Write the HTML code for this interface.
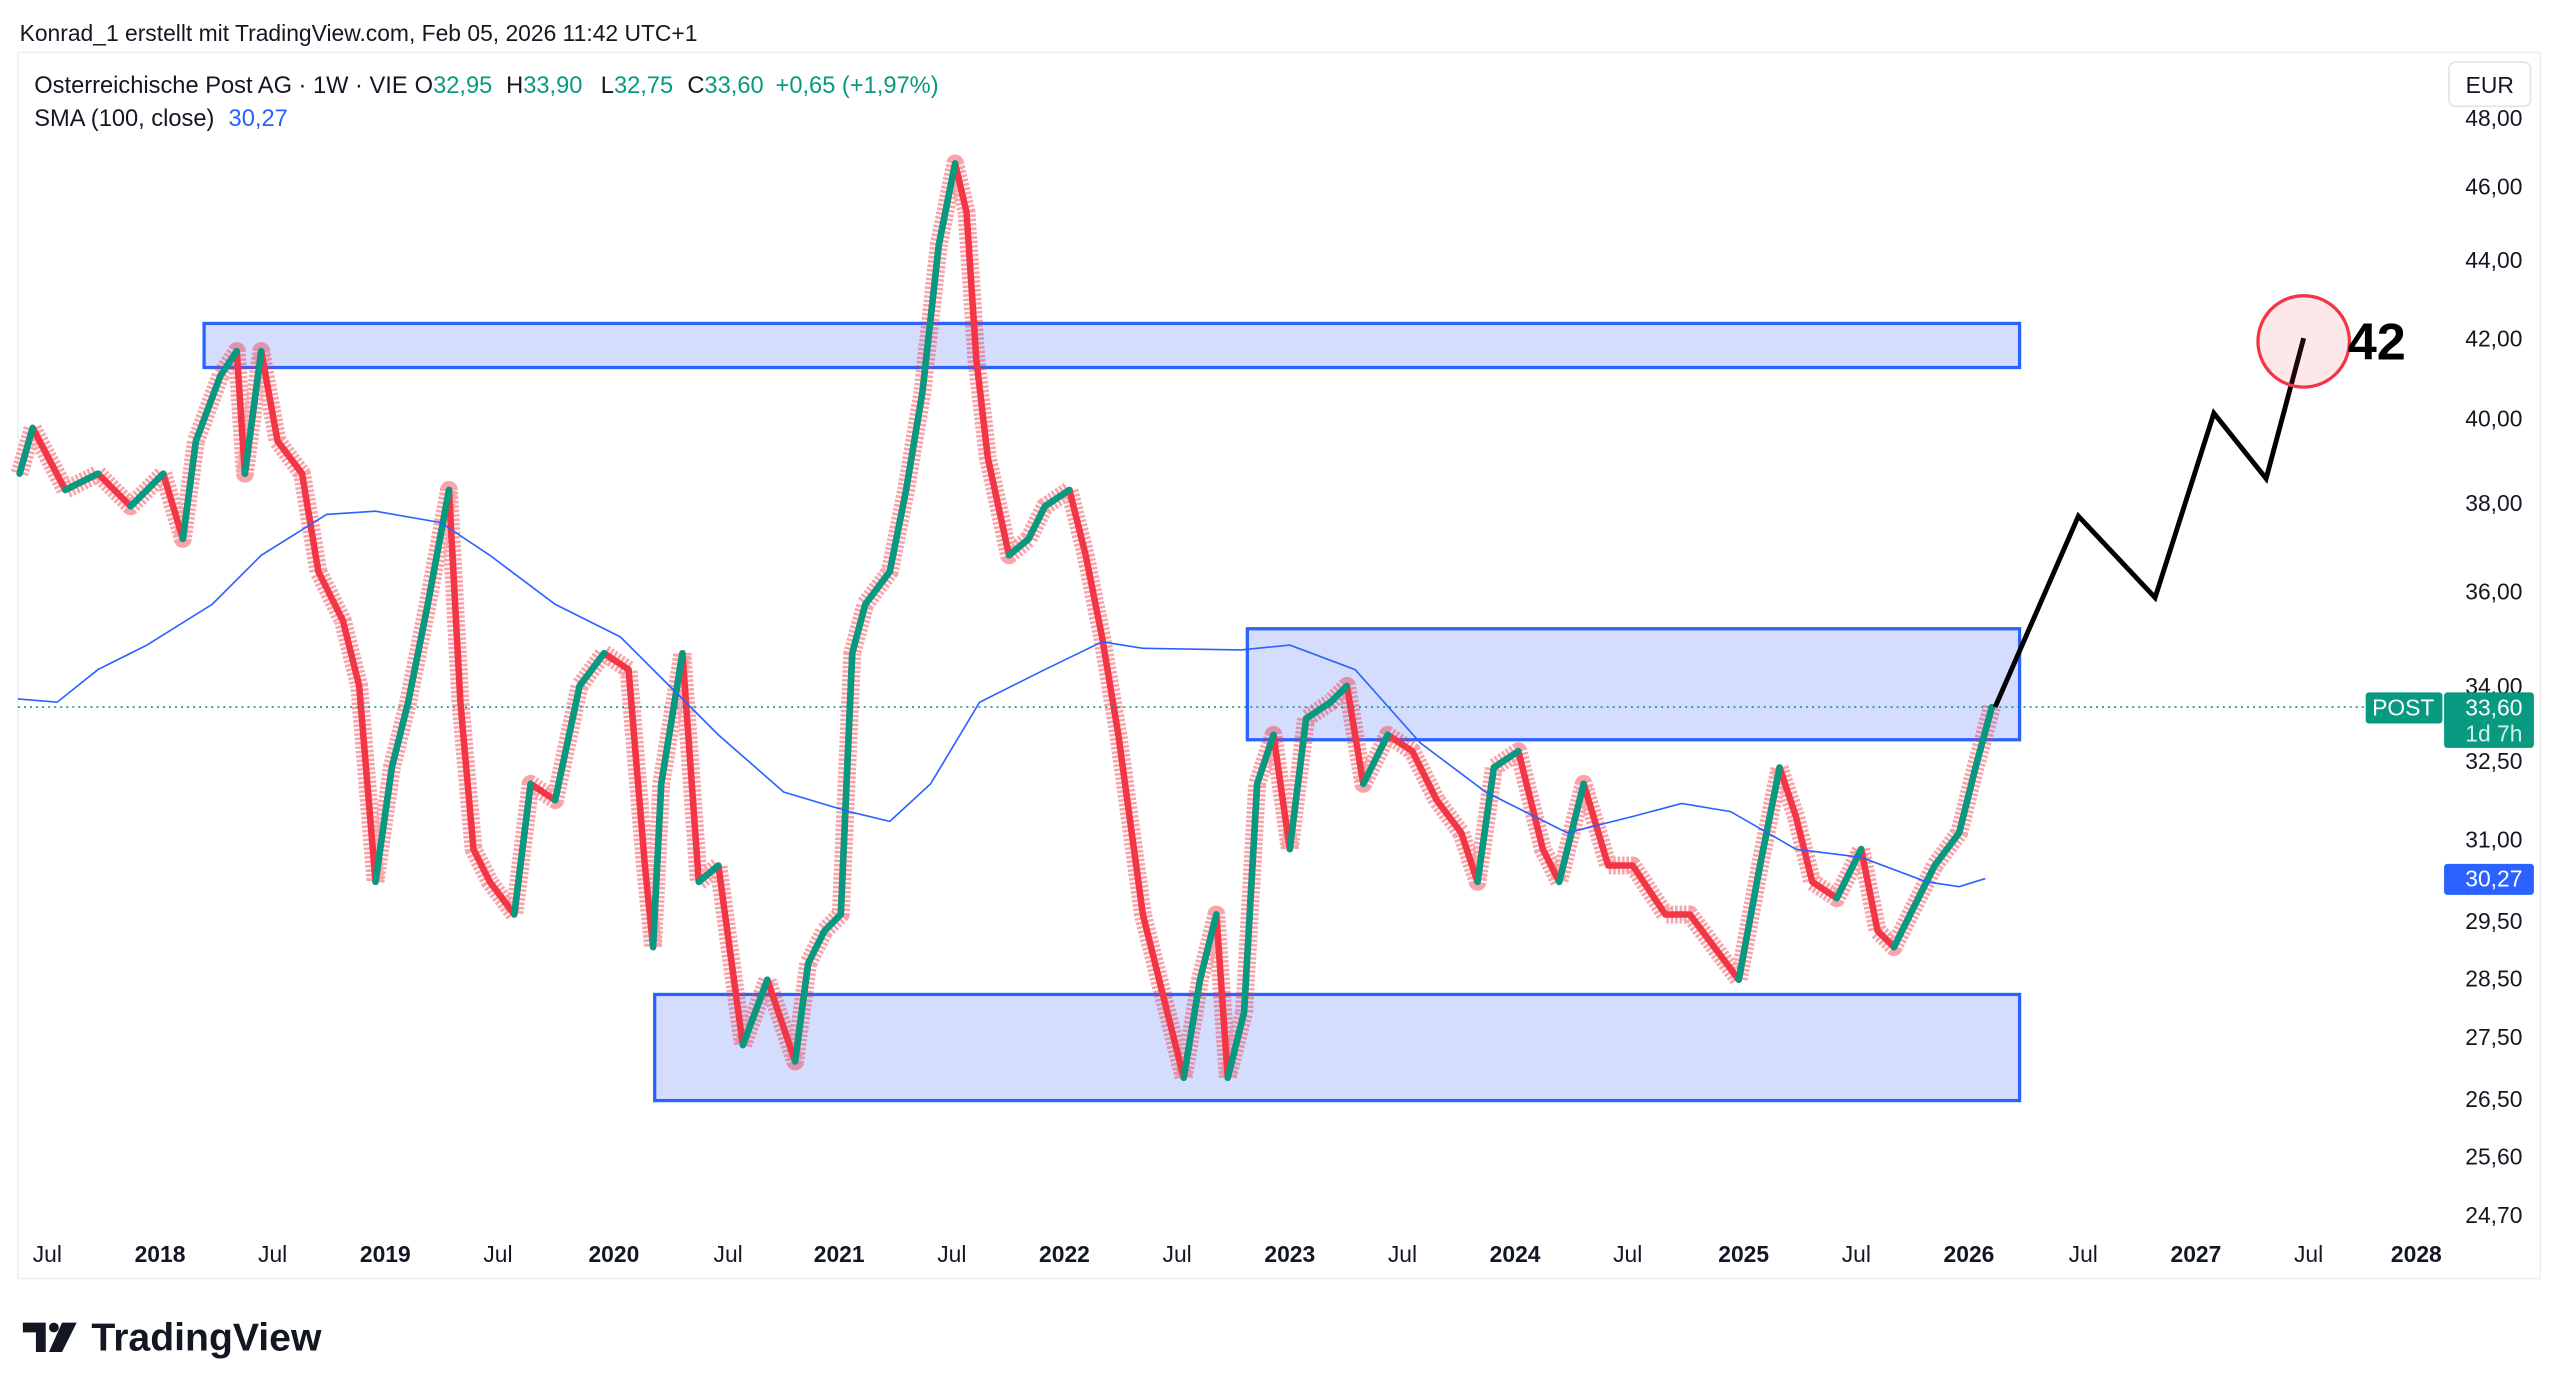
<!DOCTYPE html>
<html><head><meta charset="utf-8"><style>
html,body{margin:0;padding:0;background:#fff;width:2560px;height:1393px;overflow:hidden}
svg{display:block}
text{font-family:"Liberation Sans",sans-serif}
</style></head><body>
<svg width="2560" height="1393" viewBox="0 0 1568 853" xmlns="http://www.w3.org/2000/svg">
<rect x="0" y="0" width="1568" height="853" fill="#fff"/>
<text x="12" y="25" font-size="14" fill="#131722">Konrad_1 erstellt mit TradingView.com, Feb 05, 2026 11:42 UTC+1</text>
<rect x="11" y="32" width="1545" height="751" fill="none" stroke="#eceef2" stroke-width="1"/>
<rect x="125" y="198" width="1112" height="27" fill="#d4ddfd" stroke="#2962ff" stroke-width="2"/>
<rect x="764" y="385" width="473" height="68" fill="#d4ddfd" stroke="#2962ff" stroke-width="2"/>
<rect x="401" y="609" width="836" height="65" fill="#d4ddfd" stroke="#2962ff" stroke-width="2"/>
<g id="price">
<polyline fill="none" stroke="#f23645" stroke-opacity="0.45" stroke-width="11" stroke-dasharray="1.6,1.1" stroke-linejoin="round" points="12,290 20,262 40,300 60,290 80,310 100,290 112,330 120,270 135,230 145,215 150,290 160,215 170,270 185,290 195,350 210,380 220,420 230,540 240,470 250,430 262,370 275,300 282,430 290,520 300,540 315,560 325,480 340,490 355,420 370,400 385,410 395,530 400,580 405,480 418,400 428,540 440,530 455,640 470,600 487,650 495,590 505,570 515,560 522,400 530,370 545,350 555,300 565,240 575,150 585,100 592,130 598,220 605,280 618,340 630,330 640,310 655,300 665,340 675,390 685,450 700,560 715,620 725,660 735,600 745,560 752,660 762,620 770,480 780,450 790,520 800,440 815,430 825,420 835,480 850,450 865,460 880,490 895,510 905,540 915,470 930,460 945,520 955,540 970,480 985,530 1000,530 1020,560 1035,560 1050,580 1065,600 1078,530 1090,470 1100,500 1110,540 1125,550 1140,520 1150,570 1160,580 1170,560 1185,530 1200,510 1210,470 1220,433"/>
<polyline fill="none" stroke="#f23645" stroke-width="4" stroke-linejoin="round" points="12,290 20,262 40,300 60,290 80,310 100,290 112,330 120,270 135,230 145,215 150,290 160,215 170,270 185,290 195,350 210,380 220,420 230,540 240,470 250,430 262,370 275,300 282,430 290,520 300,540 315,560 325,480 340,490 355,420 370,400 385,410 395,530 400,580 405,480 418,400 428,540 440,530 455,640 470,600 487,650 495,590 505,570 515,560 522,400 530,370 545,350 555,300 565,240 575,150 585,100 592,130 598,220 605,280 618,340 630,330 640,310 655,300 665,340 675,390 685,450 700,560 715,620 725,660 735,600 745,560 752,660 762,620 770,480 780,450 790,520 800,440 815,430 825,420 835,480 850,450 865,460 880,490 895,510 905,540 915,470 930,460 945,520 955,540 970,480 985,530 1000,530 1020,560 1035,560 1050,580 1065,600 1078,530 1090,470 1100,500 1110,540 1125,550 1140,520 1150,570 1160,580 1170,560 1185,530 1200,510 1210,470 1220,433"/>
<path fill="none" stroke="#089981" stroke-width="4" stroke-linecap="round" d="M12 290L20 262M40 300L60 290M80 310L100 290M112 330L120 270L135 230L145 215M150 290L160 215M230 540L240 470L250 430L262 370L275 300M315 560L325 480M340 490L355 420L370 400M400 580L405 480L418 400M428 540L440 530M455 640L470 600M487 650L495 590L505 570L515 560L522 400L530 370L545 350L555 300L565 240L575 150L585 100M618 340L630 330L640 310L655 300M725 660L735 600L745 560M752 660L762 620L770 480L780 450M790 520L800 440L815 430L825 420M835 480L850 450M905 540L915 470L930 460M955 540L970 480M1065 600L1078 530L1090 470M1125 550L1140 520M1160 580L1170 560L1185 530L1200 510L1210 470L1220 433"/>
</g>
<polyline fill="none" stroke="#2962ff" stroke-width="1" points="11,428 35,430 60,410 90,395 130,370 160,340 200,315 230,313 270,320 300,340 340,370 380,390 410,420 440,450 480,485 520,497 545,503 570,480 600,430 640,410 675,393 700,397 760,398 790,395 830,410 870,455 910,485 960,510 1000,500 1030,492 1060,497 1100,520 1140,525 1180,540 1200,543 1216,538"/>
<line x1="11" y1="433" x2="1448" y2="433" stroke="#089981" stroke-width="1" stroke-dasharray="1.2,2.5"/>
<polyline points="1222,433 1273,316 1320,366 1356,253 1388,293 1411,207" fill="none" stroke="#000" stroke-width="3"/>
<circle cx="1411" cy="209" r="28" fill="rgba(242,54,69,0.12)" stroke="#f23645" stroke-width="2"/>
<text x="1438" y="220" font-size="32" font-weight="bold" fill="#000">42</text>
<g font-size="14.5" fill="#131722">
<text x="21" y="57">Osterreichische Post AG · 1W · VIE</text>
<text x="254" y="57">O<tspan fill="#089981">32,95</tspan></text>
<text x="310" y="57">H<tspan fill="#089981">33,90</tspan></text>
<text x="368" y="57">L<tspan fill="#089981">32,75</tspan></text>
<text x="421" y="57">C<tspan fill="#089981">33,60</tspan></text>
<text x="475" y="57" fill="#089981">+0,65 (+1,97%)</text>
<text x="21" y="77">SMA (100, close)</text>
<text x="140" y="77" fill="#2962ff">30,27</text>
</g>
<rect x="1500" y="38" width="50" height="27" rx="4" fill="#fff" stroke="#e0e3eb"/>
<text x="1525" y="57" font-size="14" fill="#131722" text-anchor="middle">EUR</text>
<g font-size="14" fill="#131722" text-anchor="end">
<text x="1545" y="77">48,00</text><text x="1545" y="119">46,00</text><text x="1545" y="164">44,00</text>
<text x="1545" y="212">42,00</text><text x="1545" y="261">40,00</text><text x="1545" y="313">38,00</text>
<text x="1545" y="367">36,00</text><text x="1545" y="425">34,00</text><text x="1545" y="471">32,50</text>
<text x="1545" y="519">31,00</text><text x="1545" y="569">29,50</text><text x="1545" y="604">28,50</text>
<text x="1545" y="640">27,50</text><text x="1545" y="678">26,50</text><text x="1545" y="713">25,60</text>
<text x="1545" y="749">24,70</text>
</g>
<rect x="1449" y="424" width="47" height="19" rx="2" fill="#089981"/>
<text x="1472" y="438" font-size="14" fill="#fff" text-anchor="middle">POST</text>
<rect x="1497" y="424" width="55" height="34" rx="2" fill="#089981"/>
<text x="1545" y="438" font-size="14" fill="#fff" text-anchor="end">33,60</text>
<text x="1545" y="454" font-size="14" fill="#d6f0ea" text-anchor="end">1d 7h</text>
<rect x="1497" y="529" width="55" height="19" rx="2" fill="#2962ff"/>
<text x="1545" y="543" font-size="14" fill="#fff" text-anchor="end">30,27</text>
<g font-size="14" fill="#131722" text-anchor="middle">
<text x="29" y="773">Jul</text><text x="98" y="773" font-weight="bold">2018</text>
<text x="167" y="773">Jul</text><text x="236" y="773" font-weight="bold">2019</text>
<text x="305" y="773">Jul</text><text x="376" y="773" font-weight="bold">2020</text>
<text x="446" y="773">Jul</text><text x="514" y="773" font-weight="bold">2021</text>
<text x="583" y="773">Jul</text><text x="652" y="773" font-weight="bold">2022</text>
<text x="721" y="773">Jul</text><text x="790" y="773" font-weight="bold">2023</text>
<text x="859" y="773">Jul</text><text x="928" y="773" font-weight="bold">2024</text>
<text x="997" y="773">Jul</text><text x="1068" y="773" font-weight="bold">2025</text>
<text x="1137" y="773">Jul</text><text x="1206" y="773" font-weight="bold">2026</text>
<text x="1276" y="773">Jul</text><text x="1345" y="773" font-weight="bold">2027</text>
<text x="1414" y="773">Jul</text><text x="1480" y="773" font-weight="bold">2028</text>
</g>
<g fill="#131722">
<path d="M14 810 h14 v18 h-6 v-12 h-8 z"/>
<circle cx="33" cy="813" r="3"/>
<path d="M38 810 h9 l-9 18 h-8 z"/>
<text x="56" y="827" font-size="24" font-weight="bold">TradingView</text>
</g>
</svg>
</body></html>
